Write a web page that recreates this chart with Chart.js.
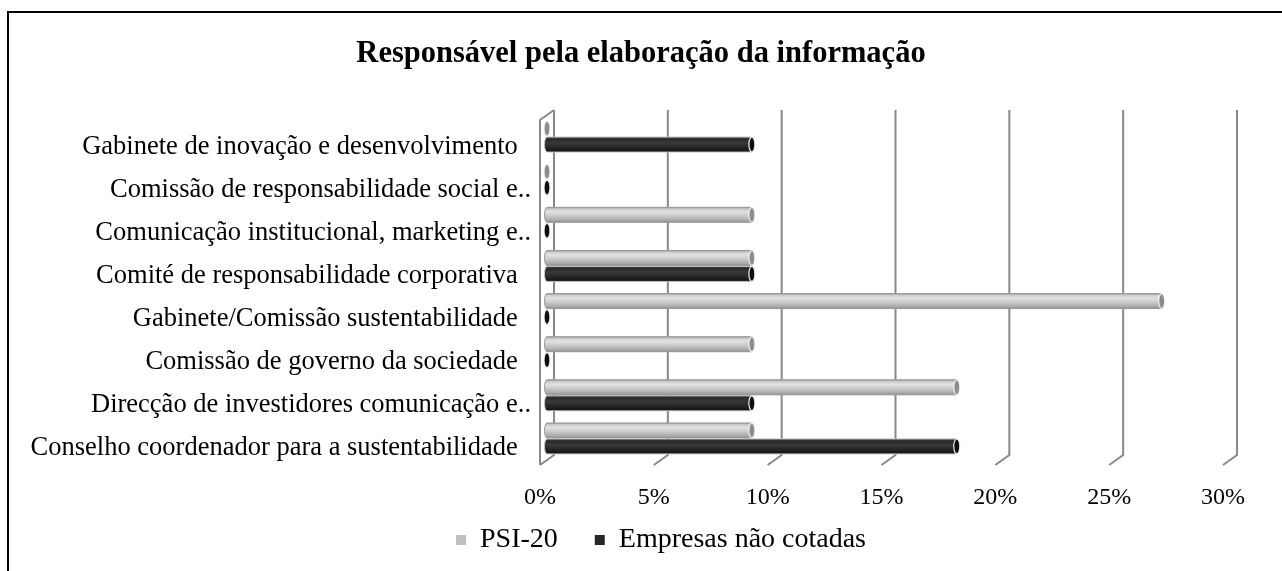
<!DOCTYPE html>
<html>
<head>
<meta charset="utf-8">
<script src="https://cdn.jsdelivr.net/npm/chart.js@4.4.0/dist/chart.umd.min.js"></script>
<style>
    body { margin: 0; background: #fff; }
    #wrap { position: relative; width: 1282px; height: 571px; overflow: hidden; }
    #frame {
        position: absolute; left: 7px; top: 11px; width: 1400px; height: 700px;
        border-top: 2px solid #000; border-left: 2px solid #000; pointer-events: none;
    }
</style>
</head>
<body>
<div id="wrap">
    <canvas id="chart"></canvas>
    <div id="frame"></div>
</div>
<script>
// Categories, top to bottom as they appear (the source cells carry trailing spaces)
const categories = [
    'Gabinete de inovação e desenvolvimento  ',
    'Comissão de responsabilidade social e..',
    'Comunicação institucional, marketing e..',
    'Comité de responsabilidade corporativa  ',
    'Gabinete/Comissão sustentabilidade  ',
    'Comissão de governo da sociedade  ',
    'Direcção de investidores comunicação e..',
    'Conselho coordenador para a sustentabilidade  '
];

// Values in %
const psi20 = [0, 0, 9, 9, 27, 9, 18, 9];
const naoCotadas = [9, 0, 0, 9, 0, 0, 9, 18];

const seriesNames = ['PSI-20', 'Empresas não cotadas'];
const xTicks = [0, 5, 10, 15, 20, 25, 30];

const SERIF = "'Liberation Serif', 'Times New Roman', serif";
const DEPTH_X = 7;
const DEPTH_Y = 5;
const LEGEND_DX = 20;
const LEGEND_DY = -23;

// shading for the cylinder look, one entry per dataset
const SHADES = [
    {
        body: [[0, '#9a9a9a'], [0.12, '#cdcdcd'], [0.3, '#e2e2e2'], [0.55, '#cccccc'], [0.85, '#acacac'], [1, '#8e8e8e']],
        cap: '#8c8c8c',
        edge: '#9a9a9a'
    },
    {
        body: [[0, '#4a4a4a'], [0.15, '#2a2a2a'], [0.4, '#3a3a3a'], [0.7, '#252525'], [1, '#121212']],
        cap: '#0e0e0e',
        edge: '#c4c4c4'
    }
];

Chart.defaults.font.family = SERIF;
Chart.defaults.color = '#000';

// back wall gridlines with the slanted floor stubs
const wallsPlugin = {
    id: 'walls',
    beforeDatasetsDraw(chart) {
        const { ctx, chartArea: a, scales: { x } } = chart;
        ctx.save();
        ctx.strokeStyle = '#888888';
        ctx.lineWidth = 2;
        xTicks.forEach(v => {
            const px = x.getPixelForValue(v);
            ctx.beginPath();
            ctx.moveTo(px + DEPTH_X, a.top - DEPTH_Y);
            ctx.lineTo(px + DEPTH_X, a.bottom - DEPTH_Y);
            ctx.lineTo(px - DEPTH_X, a.bottom + DEPTH_Y);
            ctx.stroke();
        });
        // front edge of the left wall
        const p0 = x.getPixelForValue(0);
        ctx.beginPath();
        ctx.moveTo(p0 + DEPTH_X, a.top - DEPTH_Y);
        ctx.lineTo(p0 - DEPTH_X, a.top + DEPTH_Y);
        ctx.lineTo(p0 - DEPTH_X, a.bottom + DEPTH_Y);
        ctx.stroke();
        ctx.restore();
    }
};

// paint each bar as a cylinder over the flat bar
const cylinderPlugin = {
    id: 'cylinders',
    afterDatasetsDraw(chart) {
        const ctx = chart.ctx;
        chart.data.datasets.forEach((ds, i) => {
            const shade = SHADES[i];
            chart.getDatasetMeta(i).data.forEach(bar => {
                const { x, y, base, height } = bar.getProps(['x', 'y', 'base', 'height'], true);
                const top = y - height / 2;
                ctx.save();
                if (x - base > 0.5) {
                    const g = ctx.createLinearGradient(0, top, 0, top + height);
                    shade.body.forEach(([o, c]) => g.addColorStop(o, c));
                    ctx.beginPath();
                    ctx.ellipse(base, y, 2.5, height / 2, 0, Math.PI / 2, Math.PI * 1.5);
                    ctx.lineTo(x, top);
                    ctx.lineTo(x, top + height);
                    ctx.closePath();
                    ctx.fillStyle = g;
                    ctx.fill();
                    ctx.strokeStyle = shade.edge;
                    ctx.lineWidth = 1;
                    ctx.stroke();
                }
                ctx.beginPath();
                ctx.ellipse(x, y, 3, height / 2, 0, 0, Math.PI * 2);
                ctx.fillStyle = shade.cap;
                ctx.fill();
                ctx.strokeStyle = '#f0f0f0';
                ctx.lineWidth = 1.2;
                ctx.stroke();
                ctx.restore();
            });
        });
    }
};

// Excel puts the legend a bit right of the page centre and close under the ticks
const legendShiftPlugin = {
    id: 'legendShift',
    afterLayout(chart) {
        const lg = chart.legend;
        lg.left += LEGEND_DX;
        lg.right += LEGEND_DX;
        lg.top += LEGEND_DY;
        lg.bottom += LEGEND_DY;
    }
};

new Chart(document.getElementById('chart'), {
    type: 'bar',
    data: {
        labels: categories,
        datasets: [
            { label: seriesNames[0], data: psi20, backgroundColor: '#bfbfbf', borderWidth: 0 },
            { label: seriesNames[1], data: naoCotadas, backgroundColor: '#262626', borderWidth: 0 }
        ]
    },
    options: {
        indexAxis: 'y',
        responsive: true,
        maintainAspectRatio: false,
        animation: false,
        events: [],
        categoryPercentage: 0.74,
        barPercentage: 0.94,
        layout: { padding: { top: 0, right: 0, bottom: -16, left: 0 } },
        scales: {
            x: {
                min: 0,
                max: 30,
                grid: { display: false, drawTicks: false },
                border: { display: false },
                ticks: {
                    stepSize: 5,
                    padding: 23,
                    labelOffset: -DEPTH_X,
                    font: { size: 24 },
                    callback: v => v + '%'
                },
                afterFit(s) { s.height = 52; }
            },
            y: {
                grid: { display: false, drawTicks: false },
                border: { display: false },
                ticks: { padding: 16, labelOffset: 10, font: { size: 26.5 }, autoSkip: false },
                afterFit(s) { s.width = 547; }
            },
            pad: {
                type: 'category',
                axis: 'y',
                position: 'right',
                grid: { display: false, drawTicks: false },
                border: { display: false },
                ticks: { display: false },
                afterFit(s) { s.width = 52; }
            }
        },
        plugins: {
            title: {
                display: true,
                text: 'Responsável pela elaboração da informação',
                font: { size: 30.5, weight: 'bold' },
                color: '#000',
                padding: { top: 36, bottom: 42.4 }
            },
            legend: {
                position: 'bottom',
                labels: {
                    font: { size: 28 },
                    boxWidth: 10,
                    boxHeight: 10,
                    padding: 37
                }
            },
            tooltip: { enabled: false }
        }
    },
    plugins: [wallsPlugin, cylinderPlugin, legendShiftPlugin]
});
</script>
</body>
</html>
